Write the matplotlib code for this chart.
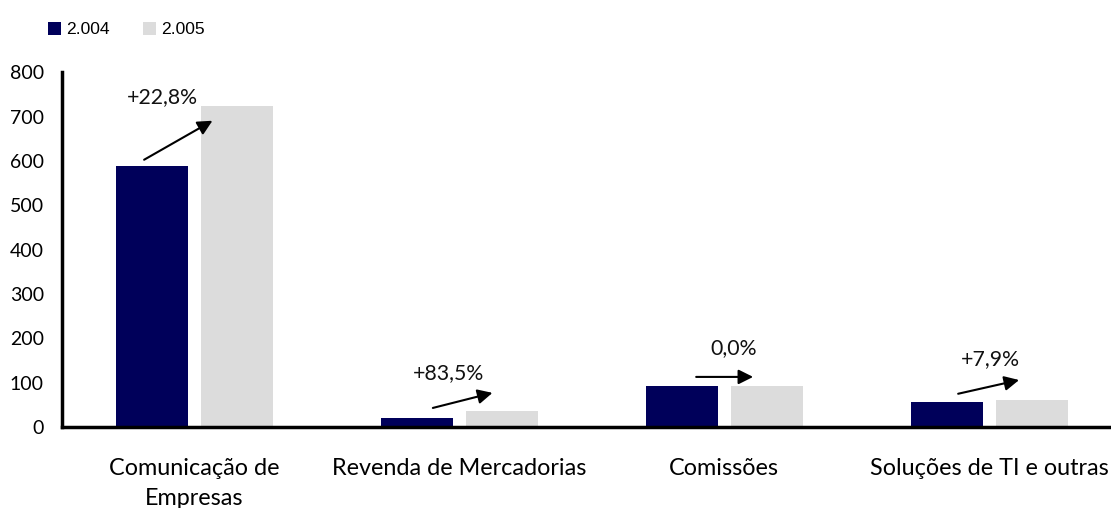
import matplotlib
matplotlib.use("Agg")
import matplotlib.pyplot as plt
import numpy as np

categories = ["Comunicação de\nEmpresas", "Revenda de Mercadorias", "Comissões", "Soluções de TI e outras"]
series_names = ["2.004", "2.005"]
values_2004 = [590, 20, 93, 56]
values_2005 = [724.5, 36.7, 93, 60.4]
growth_labels = ["+22,8%", "+83,5%", "0,0%", "+7,9%"]
yticks = [0, 100, 200, 300, 400, 500, 600, 700, 800]

# annotation geometry (relative to category centre): arrow start, arrow end, label position
arrow_start = [(-0.19, 603), (-0.10, 43), (-0.106, 113), (-0.117, 75)]
arrow_end = [(0.068, 691), (0.125, 77), (0.109, 113), (0.113, 106)]
label_pos = [(-0.12, 744), (-0.042, 122), (0.034, 178), (0.004, 154)]

color_2004 = "#00005A"
color_2005 = "#DCDCDC"
font = "Lato"

fig = plt.figure(figsize=(11.11, 5.08), dpi=100)
ax = fig.add_axes([62/1111, 1-427/508, (1111-62)/1111, (427-68)/508])

x = np.arange(len(categories))
w = 0.272
off = 0.16
ax.bar(x - off, values_2004, width=w, color=color_2004, label=series_names[0], zorder=2)
ax.bar(x + off, values_2005, width=w, color=color_2005, label=series_names[1], zorder=2)

for i in range(len(categories)):
    sx, sy = arrow_start[i]
    ex, ey = arrow_end[i]
    ax.annotate("", xy=(x[i] + ex, ey), xytext=(x[i] + sx, sy),
                arrowprops=dict(arrowstyle="-|>", color="black", lw=1.5,
                                mutation_scale=22, shrinkA=0, shrinkB=0), zorder=3)
    lx, ly = label_pos[i]
    ax.text(x[i] + lx, ly, growth_labels[i], ha="center", va="center",
            fontsize=15.3, family=font, color="#111111")

ax.set_xlim(-0.5, 3.46)
ax.set_ylim(0, 810)
ax.set_yticks(yticks)
ax.set_yticklabels([str(v) for v in yticks], fontsize=14, family=font)
ax.set_xticks(x)
ax.set_xticklabels(categories, fontsize=16.8, family=font, linespacing=1.55)
ax.tick_params(axis="y", length=0, pad=13)
ax.tick_params(axis="x", length=0, pad=22)

for s in ["top", "right"]:
    ax.spines[s].set_visible(False)
ax.spines["left"].set_linewidth(2.5)
ax.spines["bottom"].set_linewidth(2.5)
ax.spines["left"].set_bounds(0, 800)

leg = fig.legend(loc="upper left", bbox_to_anchor=(32/1111, 1-6/508), ncol=2, frameon=False,
                 prop={"family": "Liberation Sans", "size": 12.6}, handlelength=0.75,
                 handleheight=0.75, handletextpad=0.3, columnspacing=1.9)

fig.savefig("out.png", dpi=100)
